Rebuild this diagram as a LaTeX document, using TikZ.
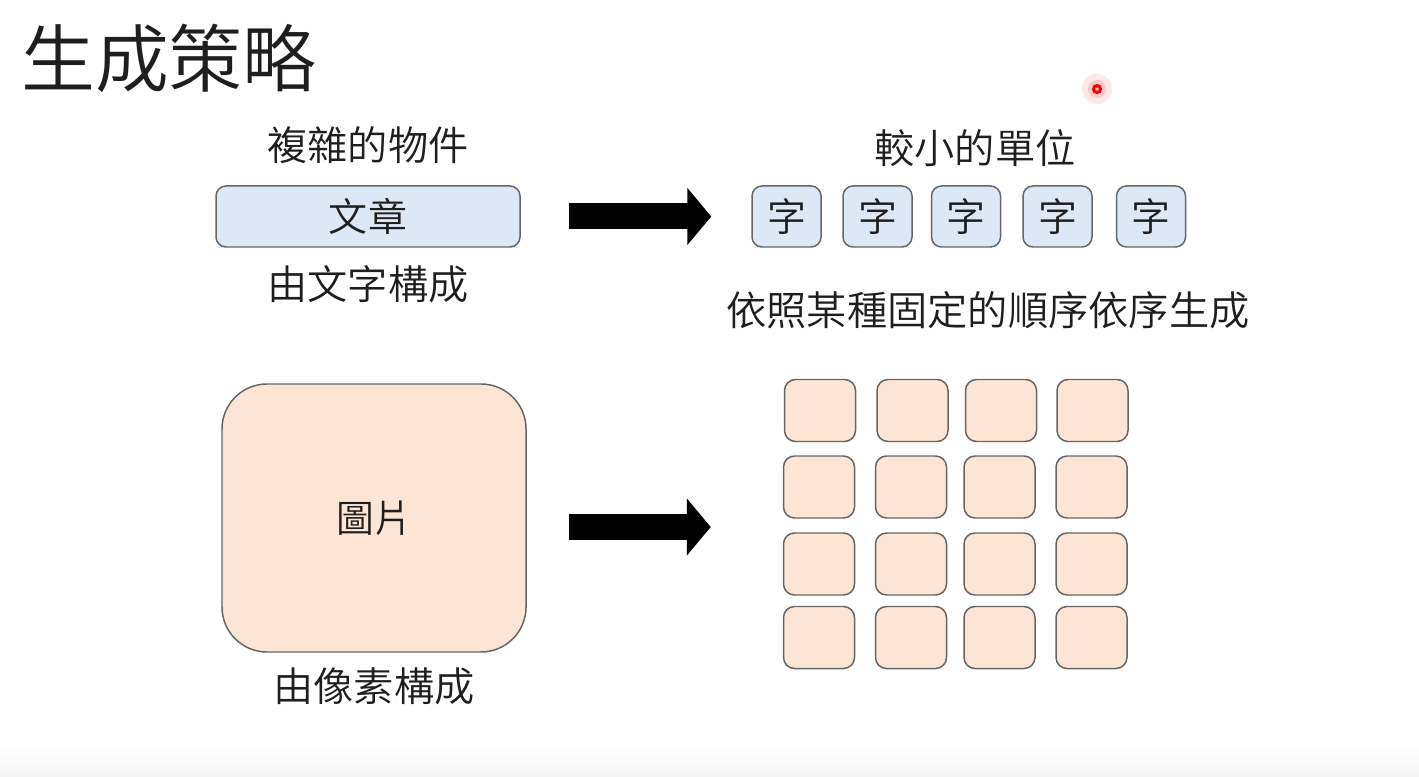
\documentclass[tikz,border=0pt]{standalone}
\usepackage{xcolor}
\usepackage{fontspec}
\setmainfont{Noto Sans CJK TC}[UprightFont={* DemiLight}]
\usepackage{tikz}
\usetikzlibrary{arrows.meta}
\definecolor{textblue}{HTML}{DCE8F6}
\definecolor{pixelpeach}{HTML}{FCE5D4}
\definecolor{edgegray}{HTML}{666666}
\definecolor{ink}{HTML}{1E1E1E}
\tikzstyle{label} = [text=ink, font=\fontsize{22.9}{27}\selectfont]
\tikzstyle{wordbox} = [rectangle, rounded corners=0.2cm, draw=edgegray, line width=0.85pt, fill=textblue, text=ink, font=\fontsize{22.2}{26}\selectfont, inner sep=0pt]
\tikzstyle{pixel} = [rectangle, rounded corners=0.22cm, draw=edgegray, line width=0.85pt, fill=pixelpeach, minimum width=1.42cm, minimum height=1.24cm, inner sep=0pt]
\tikzstyle{arrow} = [line width=0.52cm, black, -{Triangle[length=0.48cm, width=1.12cm]}]

\begin{document}
\begin{tikzpicture}[node distance = 1.4cm]

	\useasboundingbox (0,0) rectangle (28.38,-15.54);
	\shade [top color=white, bottom color=black!4] (0,-14.9) rectangle (28.38,-15.54);

	\node (title) [anchor=west, text=ink, font=\fontsize{42}{48}\selectfont, inner sep=0pt] at (0.42,-1.16) {生成策略};

	% text row
	\node (article) [wordbox, minimum width=6.08cm, minimum height=1.22cm] at (7.36,-4.33) {文章};
	\node (complex) [label, above of=article, node distance=1.43cm] {複雜的物件};
	\node (bytext) [label, below of=article, node distance=1.35cm] {由文字構成};

	\node (char1) [wordbox, minimum width=1.38cm, minimum height=1.22cm] at (15.73,-4.33) {字};
	\node (char2) [wordbox, minimum width=1.38cm, minimum height=1.22cm] at (17.55,-4.33) {字};
	\node (char3) [wordbox, minimum width=1.38cm, minimum height=1.22cm] at (19.32,-4.33) {字};
	\node (char4) [wordbox, minimum width=1.38cm, minimum height=1.22cm] at (21.15,-4.33) {字};
	\node (char5) [wordbox, minimum width=1.38cm, minimum height=1.22cm] at (23.02,-4.33) {字};
	\node (smaller) [label] at (19.5,-2.96) {較小的單位};
	\node (order) [label] at (19.76,-6.2) {依照某種固定的順序依序生成};

	\draw [arrow] ([xshift=0.96cm]article.east) -- ([xshift=-0.8cm]char1.west);

	% image row
	\node (image) [rectangle, rounded corners=0.9cm, draw=edgegray, line width=0.85pt, fill=pixelpeach, minimum width=6.08cm, minimum height=5.36cm, text=ink, font=\fontsize{21.5}{26}\selectfont] at (7.48,-10.36) {圖片};
	\node (bypixel) [label, below of=image, node distance=3.36cm] {由像素構成};

	\node (pixel11) [pixel] at (16.40,-8.21) {};
	\node (pixel12) [pixel] at (18.25,-8.21) {};
	\node (pixel13) [pixel] at (20.02,-8.21) {};
	\node (pixel14) [pixel] at (21.85,-8.21) {};
	\node (pixel21) [pixel] at (16.38,-9.74) {};
	\node (pixel22) [pixel] at (18.22,-9.74) {};
	\node (pixel23) [pixel] at (19.99,-9.74) {};
	\node (pixel24) [pixel] at (21.83,-9.74) {};
	\node (pixel31) [pixel] at (16.38,-11.28) {};
	\node (pixel32) [pixel] at (18.22,-11.28) {};
	\node (pixel33) [pixel] at (19.99,-11.28) {};
	\node (pixel34) [pixel] at (21.83,-11.28) {};
	\node (pixel41) [pixel] at (16.38,-12.75) {};
	\node (pixel42) [pixel] at (18.22,-12.75) {};
	\node (pixel43) [pixel] at (19.99,-12.75) {};
	\node (pixel44) [pixel] at (21.83,-12.75) {};

	\draw [arrow] ([xshift=0.84cm,yshift=-0.18cm]image.east) -- ([xshift=-1.44cm,yshift=-0.18cm]image.east -| pixel21.west);

	% pointer dot
	\fill [red!15, opacity=0.6] (21.94,-1.78) circle (0.3);
	\fill [red!30, opacity=0.6] (21.94,-1.78) circle (0.18);
	\draw [red, line width=0.06cm] (21.94,-1.78) circle (0.07);

\end{tikzpicture}
\end{document}
